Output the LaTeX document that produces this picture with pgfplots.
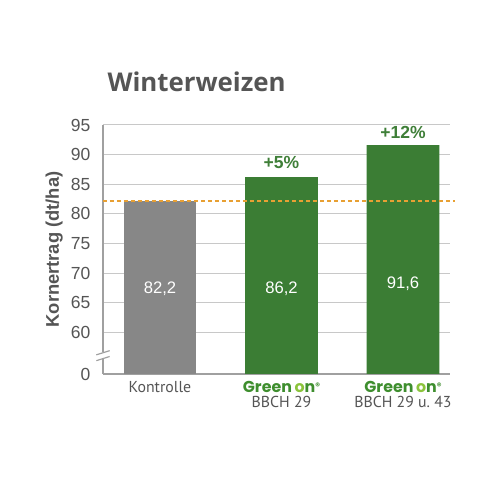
\documentclass[border=0pt]{standalone}
\usepackage{pgfplots}
\pgfplotsset{compat=1.18}
\usepackage{fontspec}
\setmainfont{Liberation Sans}
\newfontfamily\titlefont{Open Sans}
\newfontfamily\catfont{PT Sans}
\newfontfamily\logofont{Poppins}
\definecolor{barGray}{HTML}{878787}
\definecolor{barGreen}{HTML}{3B7D34}
\definecolor{txtGreen}{HTML}{3F7F38}
\definecolor{logoGreen}{HTML}{3E8E2E}
\definecolor{logoLight}{HTML}{8CC43C}
\definecolor{refOrange}{HTML}{E8A033}
\definecolor{txtGray}{HTML}{555555}
\definecolor{axGray}{HTML}{A0A0A0}
\definecolor{gridGray}{HTML}{C8C8C8}
\newcommand{\greenon}{{\logofont\bfseries\color{logoGreen}Green\,\color{logoLight}o\color{logoGreen}n\raisebox{2pt}{\fontsize{5.5}{5.5}\selectfont\textregistered}}}
\begin{document}
\begin{tikzpicture}
\useasboundingbox (0,0) rectangle (300pt,300pt);
\fill[white] (0,0) rectangle (300pt,300pt);
\node[anchor=west, text=txtGray, font=\titlefont\bfseries\fontsize{15.5}{18}\selectfont] at (61pt,251pt) {Winterweizen};
\begin{axis}[
at={(61.8pt,75.6pt)}, anchor=south west,
scale only axis,
width=208.2pt, height=149.4pt,
xmin=-0.469, xmax=2.387,
ymin=53, ymax=95,
ytick={60,65,...,95},
extra y ticks={53},
extra y tick labels={0},
extra y tick style={ymajorgrids=false},
ymajorgrids,
grid style={gridGray, line width=0.6pt},
axis x line*=bottom,
axis y line*=left,
axis line style={axGray, line width=0.8pt},
major tick length=0pt,
/pgf/number format/assume math mode=true,
xtick={0,1,2},
xticklabels={Kontrolle, \greenon\\[-2pt]BBCH 29, \greenon\\[-2pt]BBCH 29 u.\ 43},
xticklabel style={align=center, font=\catfont\fontsize{9.5}{11}\selectfont, text=txtGray, anchor=north, yshift=-1pt},
yticklabel style={font=\fontsize{10.5}{12}\selectfont, text=txtGray, xshift=-4pt},
ylabel={Kornertrag (dt/ha)},
ylabel style={font=\bfseries\fontsize{11}{13}\selectfont, text=txtGray, yshift=-2pt},
bar width=0.6,
clip=false,
]
\addplot[ybar, bar shift=0pt, fill=barGray, draw=none] coordinates {(0,82.2)};
\addplot[ybar, bar shift=0pt, fill=barGreen, draw=none] coordinates {(1,86.2) (2,91.6)};
\addplot[refOrange, line width=1.2pt, dash pattern=on 2.4pt off 1.8pt] coordinates {(-0.469,82.2) (2.43,82.2)};
\node[text=white, font=\fontsize{10}{12}\selectfont] at (axis cs:0,67.4) {82,2};
\node[text=white, font=\fontsize{10}{12}\selectfont] at (axis cs:1,67.4) {86,2};
\node[text=white, font=\fontsize{10}{12}\selectfont] at (axis cs:2,68.2) {91,6};
\node[text=txtGreen, font=\bfseries\fontsize{10.5}{12}\selectfont] at (axis cs:1,88.7) {+5\%};
\node[text=txtGreen, font=\bfseries\fontsize{10.5}{12}\selectfont] at (axis cs:2,93.8) {+12\%};
\fill[white] (rel axis cs:0,0) ++(-3pt,9pt) rectangle ++(6pt,4pt);
\draw[axGray, line width=0.7pt] (rel axis cs:0,0) ++(-4pt,8pt) -- ++(8pt,2.5pt);
\draw[axGray, line width=0.7pt] (rel axis cs:0,0) ++(-4pt,11.5pt) -- ++(8pt,2.5pt);
\end{axis}
\end{tikzpicture}
\end{document}
